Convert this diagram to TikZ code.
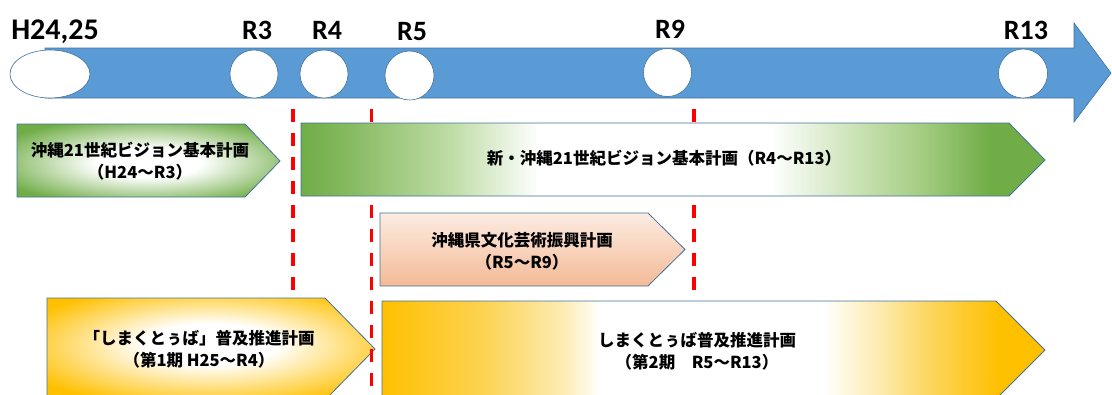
\documentclass[tikz,border=0pt]{standalone}
\usepackage{fontspec}
\setmainfont{Carlito}
\newfontfamily\jp{Noto Sans CJK JP}
\usetikzlibrary{shapes.geometric}
\definecolor{tlblue}{RGB}{91,155,213}
\definecolor{bord}{RGB}{65,113,156}
\definecolor{gA}{RGB}{112,173,71}
\definecolor{gD}{RGB}{135,186,97}
\definecolor{gB}{RGB}{190,220,165}
\definecolor{gC}{RGB}{205,228,185}
\definecolor{gE}{RGB}{165,205,130}
\definecolor{yA}{RGB}{255,192,0}
\definecolor{yB}{RGB}{252,210,80}
\definecolor{yC}{RGB}{253,235,175}
\definecolor{oT}{RGB}{252,236,226}
\definecolor{oM}{RGB}{250,222,202}
\definecolor{oB}{RGB}{244,186,150}
\definecolor{dred}{RGB}{255,0,0}
\pgfdeclarehorizontalshading{gbarB}{100bp}{color(0bp)=(gA); color(25bp)=(gA); color(28.3bp)=(gD); color(35bp)=(gB); color(41bp)=(white); color(56.5bp)=(white); color(62bp)=(gC); color(66.6bp)=(gE); color(71.3bp)=(gA); color(100bp)=(gA)}
\pgfdeclarehorizontalshading{ybarB}{100bp}{color(0bp)=(yA); color(25bp)=(yA); color(32.5bp)=(yB); color(38.5bp)=(yC); color(41.5bp)=(white); color(58.25bp)=(white); color(62.5bp)=(yC); color(67bp)=(yB); color(71.5bp)=(yA); color(100bp)=(yA)}
\pgfdeclareradialshading{gbarA}{\pgfpoint{0bp}{-2bp}}{color(0bp)=(white); color(10bp)=(white); color(31bp)=(gA); color(50bp)=(gA)}
\pgfdeclareradialshading{ybarA}{\pgfpoint{0bp}{3bp}}{color(0bp)=(white); color(10bp)=(white); color(31bp)=(yA); color(50bp)=(yA)}
\tikzset{
  tl/.style={fill=tlblue, draw=bord, line width=0.6pt},
  yearmark/.style={draw=bord, fill=white, line width=0.6pt, inner sep=0pt},
  lbl/.style={font=\bfseries\fontsize{28}{30}\selectfont, inner sep=0pt, anchor=base},
  bar/.style={draw=bord, line width=0.8pt},
  bartext/.style={font=\jp\bfseries\fontsize{16.5}{22}\selectfont, align=center, inner sep=0pt},
  reddash/.style={draw=dred, line width=3.2pt, dash pattern=on 13pt off 11pt}
}
\begin{document}
\begin{tikzpicture}[x=1pt,y=-1pt]
\useasboundingbox (0,0) rectangle (1112,394);
\clip (0,0) rectangle (1112,394);
% timeline arrow
\draw[tl] (45,48) -- (1074,48) -- (1074,23) -- (1111,73) -- (1074,122) -- (1074,98) -- (45,98) -- cycle;
\node[yearmark, ellipse, minimum width=80pt, minimum height=48pt] (eH) at (50,74) {};
\node[yearmark, circle, minimum size=48pt] (c3) at (254,74) {};
\node[yearmark, circle, minimum size=48pt] (c4) at (324,74) {};
\node[yearmark, circle, minimum size=49pt] (c5) at (409.5,75.5) {};
\node[yearmark, circle, minimum size=48pt] (c9) at (667.5,72.5) {};
\node[yearmark, circle, minimum size=49pt] (c13) at (1023,73.5) {};
\node[lbl, font=\bfseries\fontsize{30}{32}\selectfont] (lH) at (55,39) {H24,25};
\node[lbl] (l3) at (257,39) {R3};
\node[lbl] (l4) at (327,39) {R4};
\node[lbl] (l5) at (412,40) {R5};
\node[lbl] (l9) at (670,38.5) {R9};
\node[lbl] (l13) at (1026,39) {R13};
% first shimakutuba bar (below the dashed lines)
\shade[bar, shading=ybarA] (47,298) -- (325,298) -- (375,349) -- (325,400) -- (47,400) -- cycle;
% dashed lines
\coordinate (d1t) at (293,109);
\coordinate (d1b) at (293,296);
\coordinate (d2t) at (371.5,109);
\coordinate (d2b) at (371.5,396);
\coordinate (d3t) at (694,109);
\coordinate (d3b) at (694,293);
\draw[reddash] (d1t) -- (d1b);
\draw[reddash] (d2t) -- (d2b);
\draw[reddash] (d3t) -- (d3b);
% bars
\shade[bar, shading=gbarA] (17,124) -- (245,124) -- (280,161) -- (245,197) -- (17,197) -- cycle;
\shade[bar, shading=gbarB] (301,123) -- (1009,123) -- (1045,160) -- (1009,196) -- (301,196) -- cycle;
\shade[bar, top color=oT, middle color=oM, bottom color=oB] (380,213) -- (648,213) -- (685,249.5) -- (648,286) -- (380,286) -- cycle;
\shade[bar, shading=ybarB] (382,301) -- (996,301) -- (1045,350) -- (996,399) -- (382,399) -- cycle;
% texts
\node[bartext] (t1) at (140,161) {沖縄21世紀ビジョン基本計画\\（H24～R3）};
\node[bartext] (t2) at (664,158) {新・沖縄21世紀ビジョン基本計画（R4～R13）};
\node[bartext] (t3) at (522,251) {沖縄県文化芸術振興計画\\（R5～R9）};
\node[bartext] (t4) at (199,349) {「しまくとぅば」普及推進計画\\（第1期 H25～R4）};
\node[bartext] (t5) at (697,351) {しまくとぅば普及推進計画\\（第2期　R5～R13）};
\end{tikzpicture}
\end{document}
